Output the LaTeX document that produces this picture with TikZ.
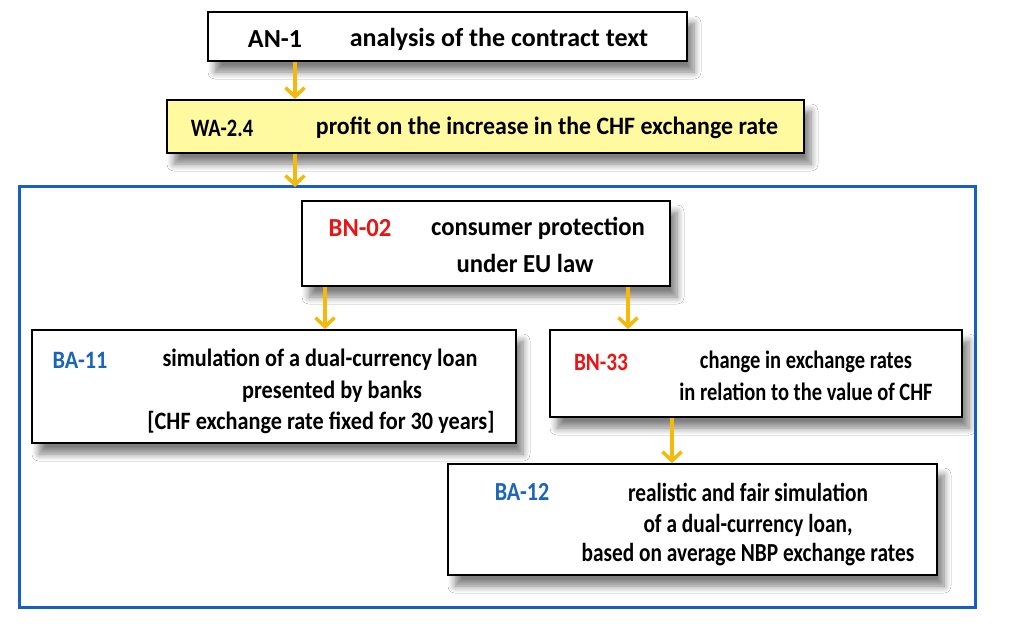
\documentclass[tikz,border=0pt]{standalone}
\usepackage{fontspec}
\setmainfont{Carlito}
\usepackage{tikz}
\usetikzlibrary{arrows.meta,shadows.blur}
\definecolor{flowarrow}{RGB}{245,185,10}
\definecolor{framblue}{RGB}{25,95,195}
\definecolor{codered}{RGB}{235,20,20}
\definecolor{codeblue}{RGB}{25,100,190}
\definecolor{paleyellow}{RGB}{255,250,160}
\newcommand{\sq}[2]{\scalebox{#1}[1]{#2}}

\begin{document}
\begin{tikzpicture}[x=1pt,y=-1pt,
  box/.style={draw=black,line width=1.8pt,fill=white,
    blur shadow={shadow xshift=7pt,shadow yshift=-11pt,shadow blur radius=7pt,shadow blur steps=8,shadow opacity=50}},
  txt/.style={font=\bfseries\fontsize{#1}{#1}\selectfont,inner sep=0pt,anchor=center},
  flow/.style={draw=flowarrow,line width=3.5pt,-{Straight Barb[length=9pt,width=19pt,line width=3.5pt]}}]
\useasboundingbox (0,0) rectangle (1024,640);
\fill[white] (0,0) rectangle (1024,640);
% outer frame
\draw[framblue,line width=3pt] (19,186) rectangle (975,607);
\coordinate (frametop) at (295,187);
% boxes
\node[box,minimum width=479pt,minimum height=49pt] (an1) at (447.5,36.5) {};
\node[box,fill=paleyellow,minimum width=637pt,minimum height=53pt] (wa24) at (485.5,126.5) {};
\node[box,minimum width=368pt,minimum height=85pt] (bn02) at (486,243.5) {};
\node[box,minimum width=484pt,minimum height=113pt] (ba11) at (274,386.5) {};
\node[box,minimum width=412pt,minimum height=87pt] (bn33) at (756,373.5) {};
\node[box,minimum width=489pt,minimum height=111pt] (ba12) at (692.5,519.5) {};
% texts
\node[txt=26] (an1code) at (275,39) {AN-1};
\node[txt=26] (an1text) at (499,39) {analysis of the contract text};
\node[txt=25] (wa24code) at (222,128) {\sq{0.82}{WA-2.4}};
\node[txt=25] (wa24text) at (547,128) {\sq{0.955}{profit on the increase in the CHF exchange rate}};
\node[txt=26,text=codered] (bn02code) at (360,228) {\sq{0.95}{BN-02}};
\node[txt=26] (bn02text) at (538,228) {\sq{0.95}{consumer protection}};
\node[txt=26] (bn02text2) at (525,263) {\sq{0.95}{under EU law}};
\node[txt=25,text=codeblue] (ba11code) at (80,360) {\sq{0.89}{BA-11}};
\node[txt=25] (ba11text) at (320,360) {\sq{0.89}{simulation of a dual-currency loan}};
\node[txt=25] (ba11text2) at (332,392) {\sq{0.89}{presented by banks}};
\node[txt=25] (ba11text3) at (321,422) {\sq{0.89}{[CHF exchange rate fixed for 30 years]}};
\node[txt=25,text=codered] (bn33code) at (601,362) {\sq{0.85}{BN-33}};
\node[txt=25] (bn33text) at (806,362) {\sq{0.82}{change in exchange rates}};
\node[txt=25] (bn33text2) at (806,392) {\sq{0.82}{in relation to the value of CHF}};
\node[txt=26,text=codeblue] (ba12code) at (522,492) {\sq{0.85}{BA-12}};
\node[txt=26] (ba12text) at (748,492) {\sq{0.82}{realistic and fair simulation}};
\node[txt=26] (ba12text2) at (748,525) {\sq{0.82}{of a dual-currency loan,}};
\node[txt=26] (ba12text3) at (748,555) {\sq{0.82}{based on average NBP exchange rates}};
% arrows
\draw[flow] (an1.south -| frametop) -- (wa24.north -| frametop);
\draw[flow] (wa24.south -| frametop) -- (frametop);
\draw[flow] ([xshift=-161pt]bn02.south) -- ([xshift=-161pt]bn02.south |- ba11.north);
\draw[flow] ([xshift=142pt]bn02.south) -- ([xshift=142pt]bn02.south |- bn33.north);
\draw[flow] ([xshift=-84pt]bn33.south) -- ([xshift=-84pt]bn33.south |- ba12.north);
\end{tikzpicture}
\end{document}
